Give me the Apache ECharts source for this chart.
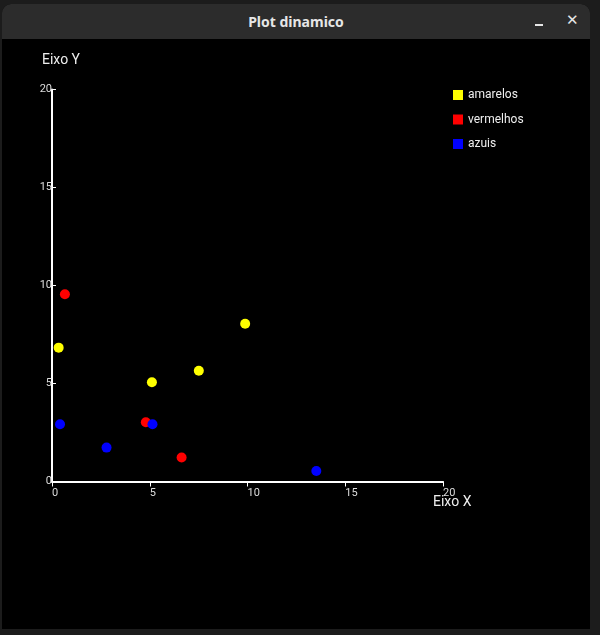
<!DOCTYPE html>
<html>
<head>
<meta charset="utf-8">
<script src="https://cdn.jsdelivr.net/npm/echarts@6/dist/echarts.min.js"></script>
<style>
  html, body { margin:0; padding:0; width:600px; height:635px; background:#1c1c1c; overflow:hidden; }
  #win { position:absolute; left:2px; top:4px; width:588px; height:625px; background:#000; border-radius:9px 9px 0 0; overflow:hidden; }
  #bar { position:absolute; left:0; top:0; width:588px; height:35px; background:#2c2c2c; }
  #title { position:absolute; left:0; width:588px; top:0; height:35px; line-height:35px; text-align:center; color:#e6e6e6; font-family:"Noto Sans", sans-serif; font-weight:bold; font-size:14px; }
  #min { position:absolute; left:533px; top:20px; width:8px; height:2px; background:#e6e6e6; }
  #close { position:absolute; left:564px; top:0; height:35px; line-height:33px; color:#e6e6e6; font-family:"DejaVu Sans", sans-serif; font-weight:bold; font-size:15px; }
  #chart { position:absolute; left:0; top:0; width:600px; height:635px; }
</style>
</head>
<body>
<div id="win">
  <div id="bar"></div>
  <div id="title">Plot dinamico</div>
  <div id="min"></div>
  <div id="close">✕</div>
</div>
<div id="chart"></div>
<script>
const amarelos = [[0.34, 6.83], [5.11, 5.06], [7.51, 5.65], [9.88, 8.05]];
const vermelhos = [[0.66, 9.55], [4.80, 3.02], [6.63, 1.22]];
const azuis = [[0.41, 2.92], [2.79, 1.73], [5.14, 2.92], [13.52, 0.54]];
const seriesNames = ['amarelos', 'vermelhos', 'azuis'];
const xTicks = { min: 0, max: 20, interval: 5 };
const yTicks = { min: 0, max: 20, interval: 5 };

const chart = echarts.init(document.getElementById('chart'), null, { renderer: 'canvas' });
const font = 'Roboto, "DejaVu Sans", sans-serif';
chart.setOption({
  backgroundColor: 'transparent',
  animation: false,
  grid: { left: 52, right: 157, top: 89.5, bottom: 153.5, containLabel: false },
  legend: {
    orient: 'vertical', left: 448, top: 84,
    icon: 'rect', itemWidth: 10, itemHeight: 10, itemGap: 12.5,
    textStyle: { color: '#eeeeee', fontSize: 12, fontFamily: font },
    data: seriesNames
  },
  xAxis: {
    type: 'value', min: xTicks.min, max: xTicks.max, interval: xTicks.interval,
    name: 'Eixo X', nameLocation: 'end', nameGap: -10, nameMoveOverlap: false,
    nameTextStyle: { color: '#eeeeee', fontSize: 14, fontFamily: font, align: 'left', verticalAlign: 'top', padding: [14, 0, 0, 0] },
    axisLine: { show: true, lineStyle: { color: '#ffffff', width: 2 } },
    axisTick: { show: true, inside: false, length: 5, lineStyle: { color: '#ffffff', width: 1 } },
    axisLabel: { color: '#dddddd', fontSize: 11, fontFamily: font, margin: 6, align: 'left' },
    splitLine: { show: false }
  },
  yAxis: {
    type: 'value', min: yTicks.min, max: yTicks.max, interval: yTicks.interval,
    name: 'Eixo Y', nameLocation: 'end', nameGap: 22, nameMoveOverlap: false,
    nameTextStyle: { color: '#eeeeee', fontSize: 14, fontFamily: font, align: 'center', padding: [0, 0, 0, 18] },
    axisLine: { show: true, lineStyle: { color: '#ffffff', width: 2 } },
    axisTick: { show: true, inside: true, length: 4, lineStyle: { color: '#ffffff', width: 1 } },
    axisLabel: { color: '#dddddd', fontSize: 11, fontFamily: font, margin: 0 },
    splitLine: { show: false }
  },
  series: [
    { name: seriesNames[0], type: 'scatter', data: amarelos, symbolSize: 10, itemStyle: { color: '#ffff00', opacity: 1 } },
    { name: seriesNames[1], type: 'scatter', data: vermelhos, symbolSize: 10, itemStyle: { color: '#ff0000', opacity: 1 } },
    { name: seriesNames[2], type: 'scatter', data: azuis, symbolSize: 10, itemStyle: { color: '#0000ff', opacity: 1 } }
  ]
});
</script>
</body>
</html>
